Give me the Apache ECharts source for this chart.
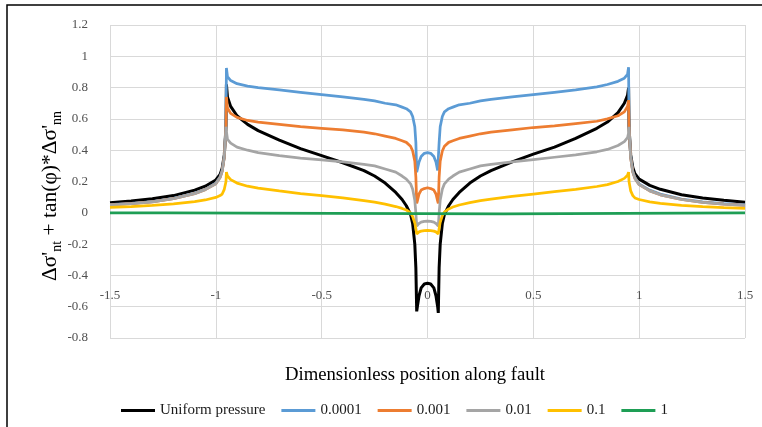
<!DOCTYPE html>
<html>
<head>
<meta charset="utf-8">
<script src="https://cdn.jsdelivr.net/npm/echarts@6/dist/echarts.min.js"></script>
<style>
html,body{margin:0;padding:0;background:#fff;}
#c{width:762px;height:427px;}
</style>
</head>
<body>
<div id="c"></div>
<script>
// ---- data ----
var xs = [-1.5, -1.4, -1.3, -1.2, -1.1, -1.05, -1.0, -0.98, -0.97, -0.96, -0.952, -0.950, -0.945, -0.93, -0.9, -0.85, -0.8, -0.7, -0.6, -0.5, -0.4, -0.3, -0.25, -0.2, -0.15, -0.12, -0.1, -0.08, -0.07, -0.06, -0.055, -0.051, -0.048, -0.04, -0.03, -0.015, 0,
          0.015, 0.03, 0.04, 0.048, 0.051, 0.055, 0.06, 0.07, 0.08, 0.1, 0.12, 0.15, 0.2, 0.25, 0.3, 0.4, 0.5, 0.6, 0.7, 0.8, 0.85, 0.9, 0.93, 0.945, 0.950, 0.952, 0.96, 0.97, 0.98, 1.0, 1.05, 1.1, 1.2, 1.3, 1.4, 1.5];

var uniformPressure = [0.065, 0.075, 0.09, 0.11, 0.145, 0.17, 0.21, 0.245, 0.285, 0.37, 0.55, 0.82, 0.74, 0.68, 0.62, 0.565, 0.525, 0.465, 0.41, 0.365, 0.32, 0.27, 0.235, 0.19, 0.13, 0.085, 0.045, -0.01, -0.07, -0.2, -0.35, -0.63, -0.6, -0.53, -0.48, -0.455, -0.45,
          -0.455, -0.48, -0.53, -0.6, -0.64, -0.35, -0.2, -0.07, -0.01, 0.045, 0.085, 0.13, 0.19, 0.235, 0.27, 0.325, 0.375, 0.42, 0.475, 0.54, 0.58, 0.64, 0.70, 0.75, 0.80, 0.55, 0.37, 0.29, 0.25, 0.215, 0.175, 0.15, 0.115, 0.095, 0.08, 0.068];

var s0001 = [0.052, 0.060, 0.072, 0.092, 0.125, 0.15, 0.19, 0.23, 0.27, 0.36, 0.55, 0.925, 0.87, 0.845, 0.825, 0.81, 0.80, 0.785, 0.77, 0.755, 0.74, 0.725, 0.715, 0.70, 0.69, 0.675, 0.665, 0.645, 0.615, 0.55, 0.45, 0.26, 0.27, 0.325, 0.36, 0.38, 0.385,
          0.38, 0.36, 0.325, 0.27, 0.26, 0.45, 0.55, 0.615, 0.645, 0.665, 0.675, 0.69, 0.70, 0.715, 0.725, 0.74, 0.755, 0.77, 0.785, 0.805, 0.82, 0.84, 0.86, 0.885, 0.93, 0.55, 0.36, 0.265, 0.225, 0.185, 0.145, 0.12, 0.088, 0.07, 0.058, 0.05];

var s001 = [0.050, 0.058, 0.070, 0.090, 0.122, 0.148, 0.185, 0.225, 0.265, 0.355, 0.55, 0.74, 0.67, 0.635, 0.61, 0.59, 0.58, 0.565, 0.55, 0.54, 0.53, 0.515, 0.505, 0.49, 0.475, 0.46, 0.45, 0.425, 0.395, 0.33, 0.23, 0.06, 0.075, 0.12, 0.145, 0.155, 0.16,
          0.155, 0.145, 0.12, 0.075, 0.06, 0.23, 0.33, 0.395, 0.425, 0.45, 0.46, 0.475, 0.49, 0.505, 0.515, 0.53, 0.545, 0.555, 0.57, 0.585, 0.6, 0.62, 0.645, 0.68, 0.72, 0.55, 0.35, 0.26, 0.22, 0.18, 0.14, 0.115, 0.085, 0.066, 0.055, 0.047];

var s01 = [0.050, 0.058, 0.070, 0.090, 0.122, 0.148, 0.185, 0.225, 0.265, 0.355, 0.55, 0.52, 0.47, 0.445, 0.42, 0.40, 0.385, 0.365, 0.35, 0.338, 0.325, 0.31, 0.30, 0.28, 0.26, 0.235, 0.215, 0.185, 0.15, 0.08, 0.0, -0.085, -0.08, -0.068, -0.06, -0.055, -0.053,
          -0.055, -0.06, -0.068, -0.08, -0.085, 0.0, 0.08, 0.15, 0.185, 0.215, 0.235, 0.26, 0.28, 0.30, 0.31, 0.325, 0.34, 0.355, 0.37, 0.39, 0.405, 0.43, 0.455, 0.48, 0.51, 0.55, 0.35, 0.26, 0.22, 0.18, 0.14, 0.115, 0.085, 0.066, 0.055, 0.047];

var s1 = [0.035, 0.040, 0.047, 0.057, 0.072, 0.082, 0.098, 0.11, 0.12, 0.15, 0.2, 0.26, 0.235, 0.212, 0.19, 0.17, 0.158, 0.14, 0.123, 0.11, 0.095, 0.078, 0.068, 0.055, 0.04, 0.028, 0.018, 0.0, -0.025, -0.065, -0.1, -0.135, -0.132, -0.122, -0.117, -0.114, -0.113,
          -0.114, -0.117, -0.122, -0.132, -0.135, -0.1, -0.06, -0.02, 0.005, 0.025, 0.037, 0.05, 0.065, 0.078, 0.088, 0.105, 0.12, 0.135, 0.15, 0.168, 0.18, 0.2, 0.22, 0.24, 0.26, 0.2, 0.14, 0.11, 0.095, 0.085, 0.07, 0.06, 0.048, 0.04, 0.033, 0.028];

var greenX = [-1.5, -1.235, -1.235, 0.36, 0.36, 1.5];
var s10 = [0.0, 0.0, -0.007, -0.007, 0.0, 0.0];

var seriesNames = ['Uniform pressure', '0.0001', '0.001', '0.01', '0.1', '1'];
var seriesColors = ['#000000', '#5B9BD5', '#ED7D31', '#A5A5A5', '#FFC000', '#1E9E55'];
var xTickLabels = ['-1.5', '-1', '-0.5', '0', '0.5', '1', '1.5'];
var yTickLabels = ['-0.8', '-0.6', '-0.4', '-0.2', '0', '0.2', '0.4', '0.6', '0.8', '1', '1.2'];

function pairs(xArr, yArr) {
  var out = [];
  for (var i = 0; i < xArr.length; i++) out.push([xArr[i], yArr[i]]);
  return out;
}

var seriesData = [
  pairs(xs, uniformPressure),
  pairs(xs, s0001),
  pairs(xs, s001),
  pairs(xs, s01),
  pairs(xs, s1),
  pairs(greenX, s10)
];

var serif = 'Liberation Serif';
var chart = echarts.init(document.getElementById('c'), null, {renderer: 'canvas'});

var series = seriesNames.map(function (n, i) {
  return {
    name: n,
    type: 'line',
    data: seriesData[i],
    symbol: 'none',
    smooth: false,
    lineStyle: {color: seriesColors[i], width: i === 0 ? 3 : 2.75},
    itemStyle: {color: seriesColors[i]},
    z: 2 + i
  };
});

chart.setOption({
  animation: false,
  backgroundColor: '#ffffff',
  grid: {left: 110, right: 17, top: 25, bottom: 89, containLabel: false},
  title: {
    text: 'Dimensionless position along fault',
    left: 280, top: 361,
    textStyle: {fontFamily: serif, fontSize: 18.7, fontWeight: 'normal', color: '#000000'}
  },
  legend: {
    data: seriesNames,
    left: 116, top: 398,
    icon: 'rect', itemWidth: 34, itemHeight: 3, itemGap: 16,
    textStyle: {fontFamily: serif, fontSize: 15, color: '#1a1a1a'}
  },
  xAxis: {
    type: 'value', min: -1.5, max: 1.5, interval: 0.5,
    position: 'bottom', offset: -57,
    axisLine: {show: false, onZero: false},
    axisTick: {show: false},
    axisLabel: {
      fontFamily: serif, fontSize: 13, color: '#505050', margin: 8,
      showMinLabel: true, showMaxLabel: true,
      formatter: function (v) {
        var idx = Math.round((v + 1.5) / 0.5);
        return xTickLabels[idx] !== undefined ? xTickLabels[idx] : String(v);
      }
    },
    splitLine: {show: true, lineStyle: {color: '#D9D9D9', width: 1}}
  },
  yAxis: {
    type: 'value', min: -0.8, max: 1.2, interval: 0.2,
    axisLine: {show: false},
    axisTick: {show: false},
    axisLabel: {
      fontFamily: serif, fontSize: 13, color: '#505050', margin: 22,
      formatter: function (v) {
        var idx = Math.round((v + 0.8) / 0.2);
        return yTickLabels[idx] !== undefined ? yTickLabels[idx] : String(v);
      }
    },
    splitLine: {show: true, lineStyle: {color: '#D9D9D9', width: 1}}
  },
  graphic: [
    {
      type: 'rect', silent: true, z: 100,
      shape: {x: 7, y: 5, width: 800, height: 500},
      style: {fill: 'none', stroke: '#000000', lineWidth: 1.5}
    },
    {
      type: 'text', silent: true, z: 100,
      x: 50, y: 196, rotation: Math.PI / 2,
      style: {
        text: 'Δσ\'{sub|nt} + tan(φ)*Δσ\'{sub|nn}',
        fontFamily: serif, fontSize: 21.5, fill: '#000000',
        align: 'center', verticalAlign: 'middle',
        lineHeight: 28,
        rich: {
          sub: {fontFamily: serif, fontSize: 14, lineHeight: 14, verticalAlign: 'bottom', fill: '#000000'}
        }
      }
    }
  ],
  series: series
});
</script>
</body>
</html>
